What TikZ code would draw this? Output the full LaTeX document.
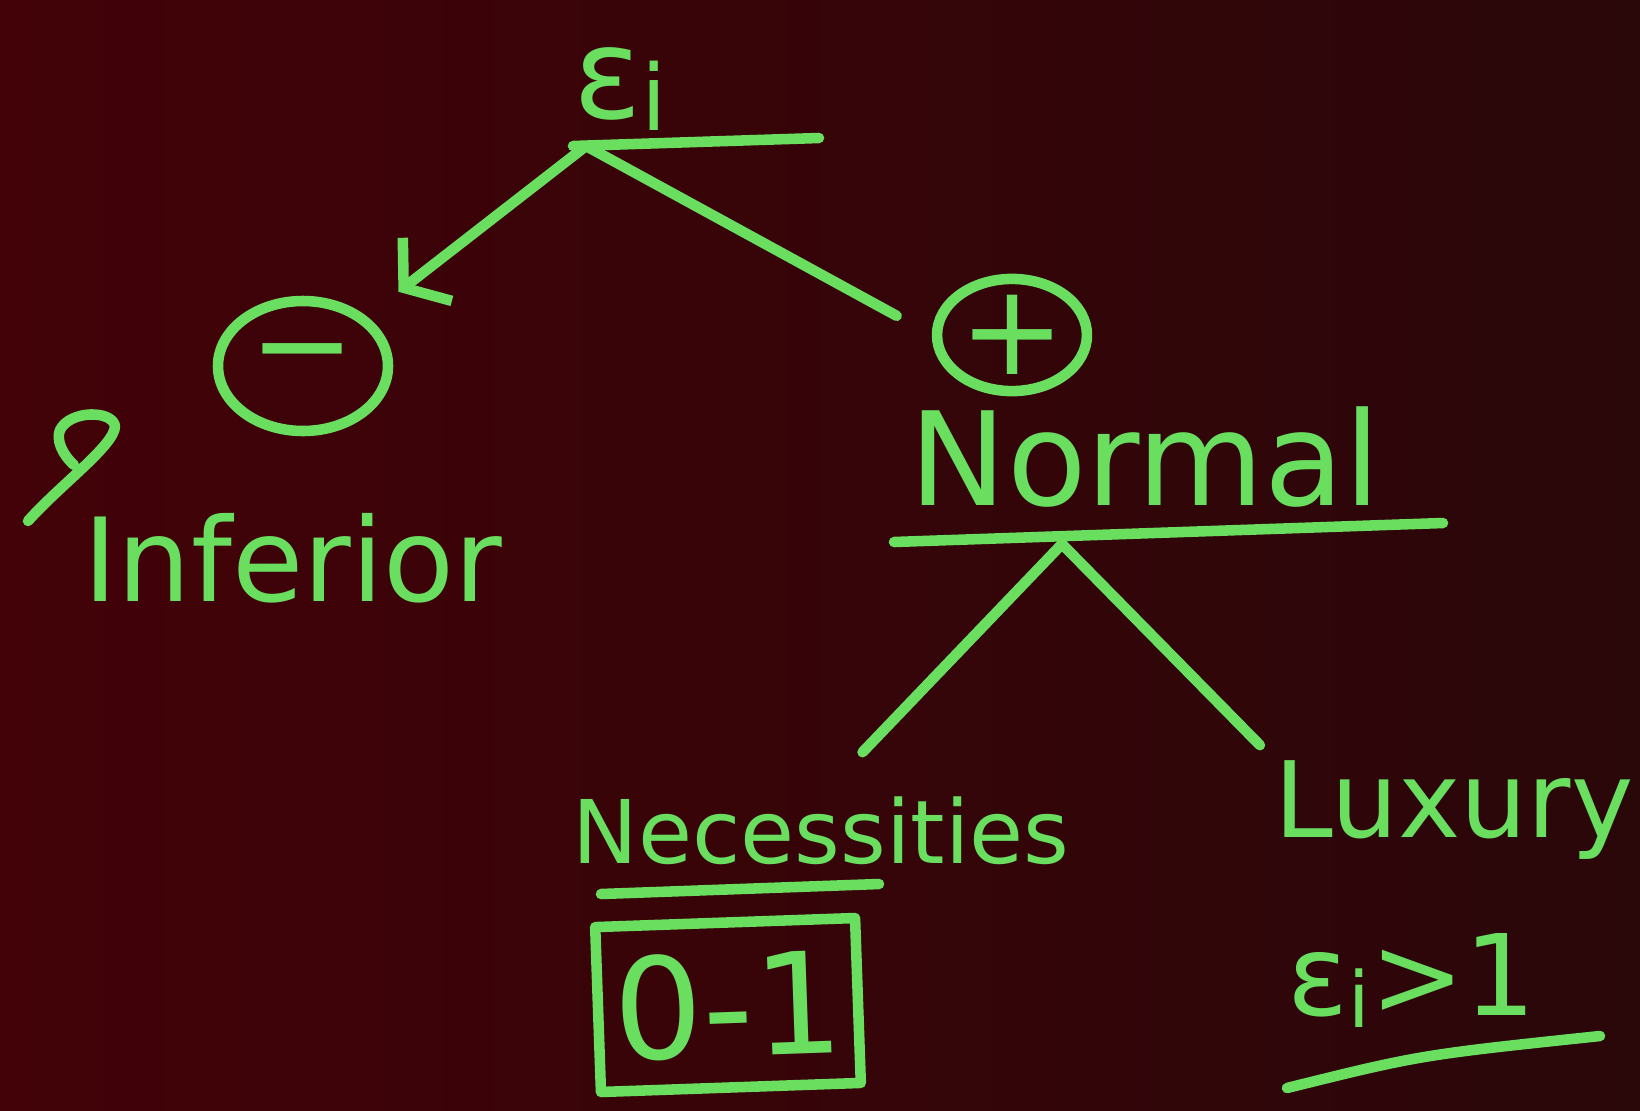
\documentclass[tikz,border=0pt]{standalone}
\usepackage{fontspec}
\setmainfont{DejaVu Sans}
\usetikzlibrary{arrows.meta,shapes.geometric}
\definecolor{chalk}{RGB}{105,222,95}
\definecolor{boardL}{RGB}{66,2,8}
\definecolor{boardR}{RGB}{42,7,9}
\newcommand\epsi[2]{ε\raisebox{#1}{\fontsize{#2}{#2}\selectfont i}}
\begin{document}
\begin{tikzpicture}[
  pen/.style={chalk,line width=3pt,line cap=round,line join=round},
  word/.style={text=chalk,inner sep=0pt,anchor=base},
  sign/.style={pen,draw,ellipse,inner sep=0pt,text=chalk,font=\fontsize{36}{36}\selectfont},
  fsize/.style={font=\fontsize{#1}{#1}\selectfont}
]
\shade[left color=boardL,right color=boardR] (0,0) rectangle (16.4,11.1);
\node[word,fsize=36] (eps) at (6.20,9.92) {\epsi{-0.12cm}{26}};
\node[sign,minimum width=1.7cm,minimum height=1.3cm] (minus) at (3.03,7.44) {\raisebox{-0.12cm}{−}};
\node[sign,minimum width=1.35cm,minimum height=1.08cm] (plus) at (10.12,7.75) {+};
\node[word,fsize=33] (inferior) at (2.93,5.09) {Inferior};
\node[word,fsize=37] (normal) at (11.45,6.05) {Normal};
\node[word,fsize=25] (necess) at (8.21,2.47) {Necessities};
\node[word,fsize=30] (luxury) at (14.54,2.73) {Luxury};
\node[pen,draw,text=chalk,fsize=40,minimum width=2.6cm,minimum height=1.65cm,rotate=2] (range) at (7.28,1.05) {0-1};
\node[word,fsize=32] (elastic) at (14.12,0.95) {\epsi{-0.12cm}{22}>1};
\coordinate (top-split) at (5.86,9.64);
\coordinate (mid-split) at (10.62,5.66);
\draw[pen] (5.73,9.64) -- (8.19,9.72);
\draw[pen,-{Straight Barb[length=3mm,width=8mm]},shorten >=4mm] (top-split) -- (minus);
\draw[pen,shorten >=4mm] (top-split) -- (plus.west);
\draw[pen] (8.94,5.68) -- (14.43,5.87);
\draw[pen,shorten >=6mm] (mid-split) -- (necess.north);
\draw[pen,shorten >=2mm] (mid-split) -- (luxury.north west);
\draw[pen] (6.01,2.16) -- (8.79,2.26);
\draw[pen] (12.87,0.22) .. controls (14.2,0.55) .. (16.00,0.74);
\draw[pen] (0.28,5.89) .. controls (0.6,6.25) and (1.15,6.65) .. (1.15,6.84) .. controls (1.12,7.0) and (0.7,7.0) .. (0.6,6.8) .. controls (0.56,6.7) and (0.62,6.56) .. (0.74,6.45);
\end{tikzpicture}
\end{document}
